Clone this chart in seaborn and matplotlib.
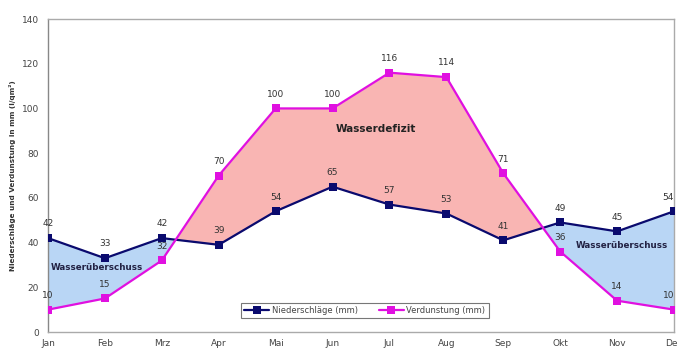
import matplotlib
matplotlib.use("Agg")
import matplotlib.pyplot as plt
import seaborn as sns
import numpy as np
import pandas as pd

months = ["Jan", "Feb", "Mrz", "Apr", "Mai", "Jun", "Jul", "Aug", "Sep", "Okt", "Nov", "Dez"]
niederschlag = [42, 33, 42, 39, 54, 65, 57, 53, 41, 49, 45, 54]
verdunstung = [10, 15, 32, 70, 100, 100, 116, 114, 71, 36, 14, 10]
series_names = ["Niederschläge (mm)", "Verdunstung (mm)"]
y_ticks = [0, 20, 40, 60, 80, 100, 120, 140]

sns.set_theme(style="white")
plt.rcParams["font.family"] = ["DejaVu Sans"]

x = np.arange(len(months))
df = pd.DataFrame({
    "idx": np.concatenate([x, x]),
    "wert": niederschlag + verdunstung,
    "reihe": [series_names[0]] * len(months) + [series_names[1]] * len(months),
})

fig = plt.figure(figsize=(6.77, 3.52), dpi=100)
ax = fig.add_axes([48 / 677, 1 - 332 / 352, (674 - 48) / 677, (332 - 19) / 352])

n = np.array(niederschlag, dtype=float)
v = np.array(verdunstung, dtype=float)
ax.fill_between(x, n, v, where=n >= v, interpolate=True, color="#b9d6f5", lw=0, zorder=1)
ax.fill_between(x, n, v, where=v >= n, interpolate=True, color="#f9b5b3", lw=0, zorder=1)

palette = {series_names[0]: "#0a0a6e", series_names[1]: "#e010e0"}
sns.lineplot(data=df, x="idx", y="wert", hue="reihe", palette=palette,
             marker="s", markersize=6, markeredgewidth=0, linewidth=1.6,
             ax=ax, zorder=3)

last = len(months) - 1
for series in (niederschlag, verdunstung):
    for xi, val in zip(x, series):
        dx = -4 if xi == last else 0
        ax.annotate(str(val), (xi, val), xytext=(dx, 7), textcoords="offset points",
                    ha="center", va="bottom", fontsize=6.5, color="#333333")

ax.text(5.77, 91, "Wasserdefizit", ha="center", va="center", fontsize=7.5,
        fontweight="bold", color="#222222", zorder=4)
ax.text(0.86, 29, "Wasserüberschuss", ha="center", va="center", fontsize=6.3,
        fontweight="bold", color="#222244", zorder=4)
ax.text(10.08, 38.5, "Wasserüberschuss", ha="center", va="center", fontsize=6.3,
        fontweight="bold", color="#222244", zorder=4)

ax.set_xlim(0, 11)
ax.set_ylim(0, 140)
ax.set_yticks(y_ticks)
ax.set_xticks(x)
ax.set_xticklabels(months)
ax.tick_params(axis="both", labelsize=6.5, colors="#444444", length=3, width=0.8,
               direction="out")
ax.tick_params(axis="x", pad=2)
for side, sp in ax.spines.items():
    sp.set_color("#aaaaaa")
    sp.set_linewidth(1.0)
ax.spines["left"].set_color("#888888")
ax.set_xlabel("")
ax.set_ylabel("")
fig.text(13 / 677, 1 - 176 / 352, "Niederschläge und Verdunstung in mm (l/qm²)",
         rotation=90, ha="center", va="center", fontsize=5.2, fontweight="bold",
         color="#333333")

leg = ax.legend(loc="lower center", bbox_to_anchor=(0.506, 0.03), ncol=2,
                fontsize=6, frameon=True, fancybox=False, edgecolor="#555555",
                borderpad=0.4, handlelength=3, columnspacing=2.5, handletextpad=0.3)
leg.get_frame().set_linewidth(0.8)
for t in leg.get_texts():
    t.set_color("#444444")

fig.savefig("out.png", dpi=100)
